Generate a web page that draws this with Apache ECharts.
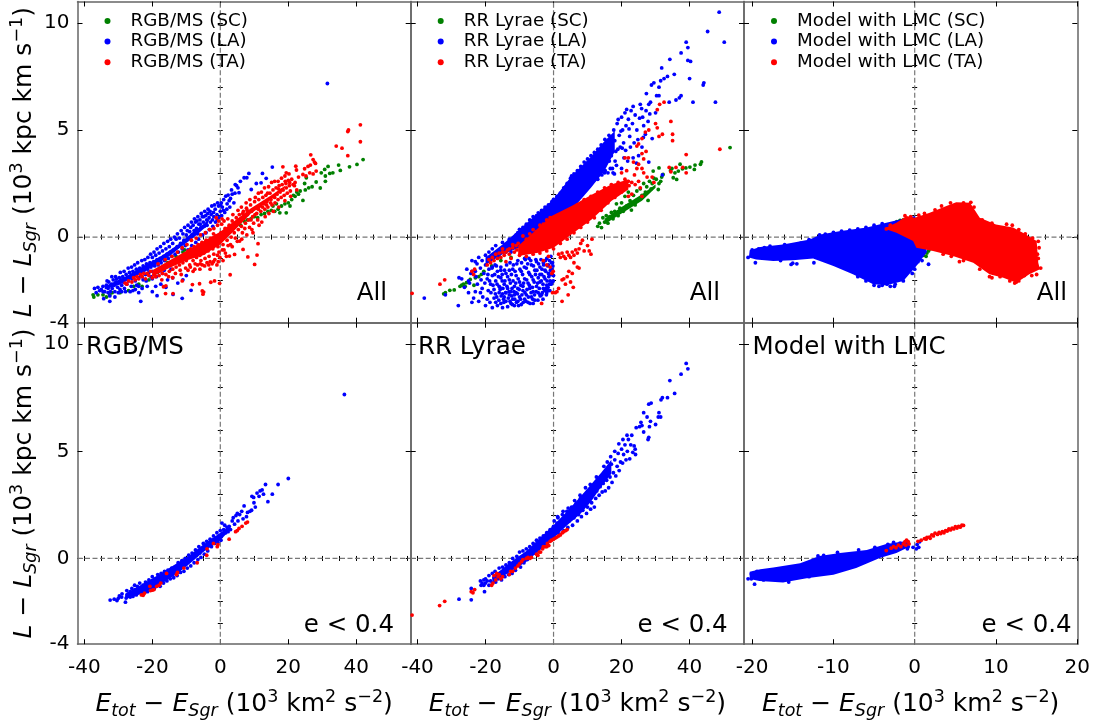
<!DOCTYPE html>
<html><head><meta charset="utf-8">
<script src="https://cdn.jsdelivr.net/npm/echarts@6/dist/echarts.min.js"></script>
<style>html,body{margin:0;padding:0;background:#fff}#c{width:1097px;height:724px}</style></head>
<body><div id="c"></div>
<script>
// flat lists: x,y,x,y,...  (10^3 km2 s-2 , 10^3 kpc km s-1)
const rgbAllSC=[-37.4,-2.7,-37.2,-2.8,-36,-2.7,-34.5,-2.7,-33.5,-2.8,-32.5,-2.7,-31.8,-2.6,-29.5,-2.6,-27,-2.5,-25.5,-2.3,-24,-2.2,-23,-2.3,-21,-2,-18.5,-1.65,-17,-1.5,-15.5,-1.2,-13,-.9,-11,-.7,-10.5,-.6,8,.8,9,.85,10,.95,12,1.05,13,1.1,14,1.2,15,1.25,16,1.2,17,1.3,17.5,1.13,19.4,1.13,18,1.45,19,1.55,20,1.6,21,1.75,22,1.9,23,2,24.3,1.71,21.5,1.95,22.5,2.1,23.5,2.15,25,2.2,24.8,2.5,25.3,2.77,26,2.3,27,2.35,28.2,2.57,29.4,2.29,29.7,3,30.9,2.85,30.9,2.6,30.7,3.16,31.7,3.3,32.2,2.97,33.1,3,34.8,3.36,35.3,3.11,38,3.28,40.2,3.39,42,3.62,6,.55,7,.75,11,.9,15.5,1.45,16.5,1.55,20.5,1.45];
const rgbAllLA=[-37,-2.4,-36.5,-2.6,-36,-2.35,-35.5,-2.5,-35,-2.45,-34.5,-2.3,-34.3,-2.88,-34,-2.55,-33.5,-2.25,-33,-2.4,-32.8,-2.1,-32.5,-3,-32.3,-2.55,-32,-2.2,-31.8,-2.4,-31.5,-2,-31.2,-2.25,-31,-2.55,-30.7,-2.1,-30.5,-1.95,-30.2,-2.35,-30,-2.15,-29.7,-1.9,-29.5,-2.45,-29.2,-2,-29,-2.25,-28.7,-1.85,-28.5,-2.1,-28.2,-2.4,-28,-1.95,-27.7,-1.75,-27.5,-2.2,-27.2,-1.9,-27,-2.05,-26.7,-1.65,-26.5,-1.85,-26.2,-2.3,-26,-1.95,-25.7,-2.5,-25.7,-1.6,-25.3,-1.8,-25,-2.05,-24.7,-1.5,-24.5,-1.7,-24,-2.6,-24,-1.9,-23.7,-1.45,-23.4,-3,-23.3,-1.65,-23,-1.85,-22.7,-1.35,-22.4,-1.55,-22,-1.75,-21.7,-1.25,-21.4,-1.5,-21,-1.65,-20.7,-1.2,-20.4,-1.4,-20,-.95,-20,-1.6,-19.6,-1.15,-19.3,-1.35,-19,-.85,-18.6,-2.74,-18.6,-1.05,-18.3,-1.3,-18,-.75,-17.7,-1,-17.4,-1.2,-17,-.65,-16.7,-.9,-16.4,-1.1,-16,-.55,-15.7,-.8,-15.3,-1,-15,-.45,-14.7,-.7,-14.3,-.9,-14,-.3,-13.9,-2.68,-13.7,-.6,-13.3,-.8,-13,-.1,-12.7,-.45,-12.3,-.7,-12,-.05,-11.7,-.3,-11.2,-2.86,-11.2,-.55,-11,.15,-10.7,-.15,-10.3,-.4,-10,.1,-9.7,.3,-9.4,-.05,-9,.25,-8.6,-2.49,-8.7,.45,-8.3,.1,-8,.55,-7.7,.3,-7.3,.7,-7,.4,-6.7,.15,-6.3,.6,-6,.8,-5.7,.45,-5.3,.95,-5,.7,-4.7,.5,-4.3,1,-4,.8,-3.7,1.1,-3.3,.9,-3,1.2,-2.7,1.05,-2.3,.8,-2,1.15,-1.5,1.3,-1,1.05,-.5,1.45,0,1.2,.3,1.6,.6,1.4,1,1.75,1.6,1.91,2,1.55,2.3,1.96,2.6,1.7,3,1.8,3.5,2,4.4,2.45,4.8,2.4,5.2,2.3,5.5,2.07,5.9,2.6,7,2.77,7.8,2.77,8.4,2.97,9.1,2.22,10.6,2.5,12,2.53,12.4,2.97,13.5,2.74,15.3,3.27,31.5,7.17,-34.5,-2.55,-32.5,-2.75,-31,-2.8,-29,-2.55,-26.5,-2.55,-25,-2.45,-23,-2.4,-21.5,-2.3,-20,-2.55,-19,-2.3,-17.5,-2.2,-16,-2.35,-15.5,-2,-14,-1.9,-12.5,-2.15,-11,-2,-10,-1.8,-14.5,-1.5,-17,-1.7,-20,-1.95,-24,-2.3];
const rgbAllLAExtra=[-33.3,-2.05,-31.9,-1.85,-30.8,-1.85,-29.4,-1.65,-28.3,-1.6,-27.1,-1.45,-26.1,-1.4,-25.2,-1.3,-24.3,-1.2,-23.1,-1.1,-22.2,-1.05,-21.3,-.95,-20.5,-.8,-19.5,-.7,-18.6,-.55,-17.6,-.45,-16.6,-.3,-15.5,-.2,-14.6,-.1,-13.5,0,-12.6,.15,-11.5,.3,-10.5,.45,-9.5,.55,-8.5,.7,-7.6,.85,-6.6,.95,-5.6,1.1,-4.6,1.2,-3.6,1.3,-2.5,1.45,-1.7,1.5,-.8,1.6,-33,-2.6,-30,-2.6,-27.9,-2.55,-24.6,-2.25,-22.7,-2,-21.8,-2.05,-20.4,-1.85,-18.8,-1.85,-18,-1.6,-16.5,-1.55,-15.2,-1.3,-13.5,-1.2,-12.2,-1,-10.8,-.85,-9.5,-.6,-8.4,-.4,-7.2,-.25,-6.4,-.1,-5.2,.1,-4.2,.2,-3.2,.35,-2.2,.5,-1.4,.7,-.4,.9,.4,1,1.3,1.15,2.8,1.4,4,1.6,-6.9,.75,-5.9,.6,-4.9,.95,-3.9,.55,-2.9,.7,-1.9,.95,-.9,.8,.1,1.5,.9,1.25,1.9,1.3,3.3,2.2,4.3,2.05];
const rgbAllLACore=[-34,-2.3,-28,-1.85,-22,-1.3,-17,-.85,-12,-.3,-8,.25,-5,.6,-3,.9,-4,.5,-8,-.05,-11,-.4,-15,-.9,-20,-1.4,-25,-1.85,-30,-2.25,-34,-2.45];
const rgbAllTA=[-28,-2.15,-27.5,-2.2,-27,-2.05,-26,-2.1,-25.5,-1.9,-25,-2,-24.5,-1.85,-24,-1.95,-23.5,-1.75,-23,-1.85,-22.5,-1.7,-22,-1.95,-21.5,-1.7,-21,-1.8,-20.5,-1.6,-20,-1.9,-19.5,-1.75,-19,-1.85,-18.5,-1.6,-18,-1.8,-17.5,-1.5,-17,-1.7,-16.5,-1.45,-16,-1.75,-15.5,-1.35,-15,-1.6,-14.5,-1.25,-14,-1.5,-13.5,-1.15,-13,-1.4,-12.5,-1.05,-12,-1.3,-11.5,-.95,-11,-1.2,-10.5,-.8,-10,-1.1,-9.5,-.65,-9.2,-.95,-9,-1.3,-8.7,-.55,-8.4,-.8,-8,-1.1,-7.7,-.45,-7.4,-.7,-7,-.95,-6.7,-1.3,-6.5,-.35,-6.2,-.6,-6,-.85,-5.7,-1.1,-5.4,-.25,-5.1,-.5,-4.8,-.75,-4.5,-1,-4.2,-.15,-3.9,-.4,-3.6,-.65,-3.3,-.9,-3,-1.15,-2.8,-.05,-2.5,-.3,-2.2,-.55,-1.9,-.8,-1.6,-1.05,-1.3,.05,-1,-.2,-.7,-.45,-.4,-.7,-.1,-.95,.2,.2,.5,-.1,.8,-.35,1.1,-.6,1.4,.4,1.7,.1,2,-.15,2.3,-.4,2.6,.55,2.9,.25,3.2,0,3.5,.75,3.8,.45,4.1,.2,4.4,-.05,4.7,.9,5,.6,5.3,.35,5.6,1.05,5.9,.75,6.2,.5,6.5,.2,6.8,1.2,7.1,.9,7.4,.65,7.7,1.35,8,1.05,8.3,.8,8.6,.45,8.9,1.5,9.2,1.2,9.5,.95,9.8,.65,10.1,1.65,10.4,1.35,10.7,1.1,11,.8,11.3,1.75,11.6,1.45,11.9,1.2,12.2,.7,12.5,1.85,12.8,1.55,13.1,1.3,13.4,1.95,13.7,1.65,14,1.4,14.3,1.1,14.6,2.05,14.9,1.75,15.2,1.5,15.5,2.2,15.8,1.9,16.1,1.6,16.4,2.3,16.7,2,17,1.75,17.3,2.4,17.6,2.1,17.9,1.85,18.2,2.45,18.5,2.2,18.8,1.95,19.1,2.6,19.4,2.3,19.7,2.05,20,2.65,20.3,2.4,20.6,2.15,21,2.7,21.4,2.45,22,2.55,41.2,5.24,37.7,5,37.5,4.93,41.2,4.45,34.1,4.25,35.8,4.15,37.5,3.8,26.6,3.84,27.3,3.62,27.7,3.5,28,3.44,26.5,3.36,25.8,3.3,28.2,3.08,24.8,3.19,22.2,3.31,18.4,3.28,19.4,3,22.4,3.13,24.3,2.92,26.3,3,27.3,2.95,23,2.8,25.2,2.85,11.1,-.31,10.8,-.84,10.1,-1.28,8.1,-.93,6.7,-.58,5.7,-.19,4.2,-.81,2.7,-.89,2.9,-1.76,-.2,-2.16,-1.7,-2.05,-2.8,-2.11,-5.1,-2.67,-5.3,-2.52,-4.9,-2.57,-6.1,-2.18,-8.2,-2.22,-11.2,-2.05,-13.9,-2.64,-16.1,-2.64,-16.7,-2.32,-16,-2.28,-1,-1.3,-3,-1.5,-6,-1.5,-8,-1.6,.8,-1.1,1.8,-.9,3.5,-.45,-9.5,-1.55,-11.5,-1.75,-14,-1.9,-1.2,.9,-.5,.75,.5,.85,-3,.35,-2,.15];
const rgbAllTAExtra=[10.3,1.85,11.2,2.05,12.1,2.1,13,2.3,13.9,2.05,14.2,2.35,15.1,2.55,16,2.6,17,2.6,18,2.75,19,2.85,20.2,2.95,8.7,1.75,7.6,1.6,6.2,1.4,5.2,1.25,3.7,1.05,2.2,.85,1.1,.75,.4,.6,9.3,.35,7.8,.1,6.3,-.1,7.2,.4,5,-.2,3,-.35,1.5,-.75,-.6,-1.15,-2.4,-1.25,-3.9,-1.2,-5.3,-1.3,-7.4,-1.25,13.2,.95,15.6,1.2,17.2,1.4,19,1.7,20.7,1.9,22.5,2.2,11.4,.55,9.6,.2,-18.3,-1.25,-16.2,-1.05,-14.2,-.9,-12.6,-.7,-11.2,-.5,-9.8,-.35,-8.5,-.15,-7.1,-.05,-5.8,.1,-4.4,.2,-3.2,.35,-1.9,.4,-.8,.55,-17.2,-2,-15.2,-1.85,-13.2,-1.7,-11.8,-1.55,-10.2,-1.45,-8.8,-1.4,-7.5,-1.5,-5.9,-1.25,-4.6,-1.35,-3.4,-1.3,-2,-1.15,-.8,-.85,.6,-.6,6.6,1.1,7.9,1.25,9,.8,10.2,1.05,11.2,1.3,12.4,1.4,13.6,1.5,14.8,1.6,16,1.85,17.1,2.25,18.2,2.2,19.3,2.5,20.4,2.55,21.8,2.4];
const rgbAllTACore=[-20,-1.55,-15,-1.1,-10,-.65,-5,-.2,0,.25,5,.85,9,1.35,15,1.95,19,2.4,19,2.3,15,1.75,9,1.1,5,.45,0,-.35,-5,-.85,-10,-1.1,-15,-1.45,-20,-1.85];
const rrAllSC=[51.9,4.18,43.5,3.51,43.2,3.4,41.6,3.36,41.4,3.16,40.1,3.27,38.9,3.23,37.9,3.19,37.2,3.4,36.7,3.08,35.7,3,36.2,2.69,35.2,2.77,34.8,3.2,34.4,3.1,32.2,2.92,31,3.23,29.3,3.08,31.5,2.6,31.8,2.8,30.8,2.22,31,2.5,30.2,2.7,29.5,2.75,29,2.5,28.7,2.25,28.2,2.6,27.8,1.71,27.4,2.35,27,2.1,26.5,2.5,26,1.95,25.5,2.25,25,1.75,24.5,2.15,24,1.5,23.5,1.95,22.9,1.26,22.5,1.7,22,2.1,21.5,1.45,21,1.9,20.5,1.2,20,1.6,19.5,1.35,19,1,18.5,1.55,18,1.2,17.5,.85,17,1.15,16.5,.95,16,.65,15.5,1,15,.7,14.1,.44,14.5,.9,13.5,.65,13,.5,-31.8,-2.6,-32.3,-2.65,-30.5,-2.49,-29.2,-2.47,-27.5,-2.3,-27,-2.25,-26.5,-2.2,-26,-2.3,-25.6,-2.13,-23.4,-2.25,-24.5,-1.98,-23,-1.9,-22,-1.85,-21.2,-1.74,-20.5,-1.6,-18.2,-1.35,-15.5,-1.1,-12.5,-.95,-8,-.5];
const rrAllSCCore=[15,.85,20,1.4,26,2,30,2.45,30,2.3,26,1.7,20,1.1,15,.6];
const rrAllLA=[-38,-2.85,-31.8,-2.7,-27.8,-1.9,-28,-3.2,-25,-2.6,-23.5,-2.85,-22,-3,-21.5,-2.6,-21,-2.4,-20,-3.2,-19.5,-2.9,-18,-3.3,-17.5,-2.85,-17,-3.05,-16.5,-3.2,-16,-2.6,-15.5,-3.1,-15,-3.3,-14.5,-2.8,-14,-3,-13.5,-3.25,-13,-2.7,-12.5,-3.1,-12,-2.9,-11.5,-3.2,-11,-2.6,-10.5,-3,-10,-2.8,-9.5,-3.15,-9,-2.5,-8.5,-2.9,-8,-2.7,-7.5,-3.05,-7,-2.4,-6.5,-2.8,-6,-2.55,-5.5,-2.95,-5,-2.3,-4.5,-2.6,-4,-2.1,-3.5,-2.7,-3,-2.4,-2.5,-1.95,-2,-2.25,-1.5,-1.7,-1,-2.05,-.5,-1.5,0,-1.8,-.3,-1.2,-.8,-.9,-1.5,-1.3,-2,-1,-2.5,-1.55,-3,-1.2,-3.5,-1.75,-4,-1.4,-4.5,-1.9,-5,-1.15,-5.5,-1.55,-6,-2,-6.5,-1.3,-7,-1.75,-7.5,-2.15,-8,-1.45,-8.5,-1.95,-9,-2.3,-9.5,-1.6,-10,-2.1,-10.5,-2.4,-11,-1.8,-11.5,-2.3,-12,-1.5,-12.5,-2.55,-13,-2,-13.5,-2.4,-14,-1.7,-14.5,-2.2,-15,-2.65,-15.5,-1.9,-16,-2.3,-16.5,-1.6,-17,-2.05,-17.5,-2.45,-18,-1.8,-18.5,-2.2,-19,-1.5,-19.5,-1.95,-20,-1.3,-20.5,-1.7,-21,-1.1,-21.5,-1.45,-22,-.95,-22.5,-1.25,-23,-1.6,-20,-.85,-19,-.7,-18,-.55,-17,-.4,-16,-.9,-15,-.25,-14,-.7,-13,-.1,-12,-.5,-11,.1,-10,.36,-10.5,.2,-9.5,-.2,-9,.45,-8.5,.1,-8,.6,-7.5,.25,-7,.8,-6.5,.45,-6,.95,-5.5,.6,-5,1,-4.5,1.13,-4,.8,-3.5,1.25,-3,.95,-2.5,1.4,-2,1.15,-1.5,1.5,-1,1.25,-.5,1.65,0,1.76,.5,1.4,1,1.9,1.5,1.55,2,2.05,2.5,1.75,3,2.3,3.5,2,4,2.5,4.5,2.2,5,2.75,5.3,2.85,5.5,2.35,6,2.95,6.5,2.55,7,3.1,7.5,2.7,8,3.3,8.5,2.95,9,3.5,9.5,3.1,10,3.65,10.5,3.25,11,3.8,11.2,3.4,11.7,2.85,12,3.95,12.3,3.5,12.7,3,13,4.1,13.3,3.65,13.7,3.2,14,4.3,14.3,3.85,14.7,3.4,15.1,4.56,15.4,4.05,15.8,3.6,16,3,16.3,4.75,16.6,4.25,17,3.8,17.3,3.2,17.7,5,18,4.5,18.3,4,18.7,5.3,19,5.49,19.3,4.75,19.6,4.2,20,5.6,20.3,5,20.6,4.4,21,5.8,21.3,5.2,21.5,5.96,22,5.5,22.4,4.7,22.8,5.9,23.2,5.3,23.4,6.1,23.7,4.4,24,5.7,24.5,5,25,3.8,25.5,6.2,25.9,6,26,4.2,26.5,5.2,27,4.8,27.3,6.7,28,6.2,27.8,5.4,28.5,6.3,28.8,7.1,29,4.6,29.5,7.2,30,5.8,30.3,6.6,31,7,31.5,7.3,31.8,7.9,31,6.6,32.5,7.4,33.5,7.5,34.2,8.3,34,6.3,35.5,7.6,37.5,8.6,36,6.4,37,6.5,37.5,6.6,39,9.1,39.5,8.85,40.3,8.2,39.5,8.25,40,7.4,44,7.1,44.2,7.2,41,6.3,47.6,6.3,45.3,9.6,48.7,10.5,50.2,9.1,32,2.9,28,3.5,20,3.2,17.5,3,-9.5,.2,-7,.1,-5,.3,-3,.5,-1,.8,1,1,3,1.6,5,1.9,7,2.3,9,2.6,11,2.8,13,2.7,15,3,3,1.2,-24,-1.1,-25.5,-1.5,-24,-1.6,-23,-1.15,-18,-1,-15,-.7,-12.5,-.7,-7.2,-1,-8.5,-1,-10.5,-1.1,-12.8,-1.2,-15.5,-1.4,-18,-1.4,-4,-2.7,-2,-2.6,-6,-3.1,-14,-2.6,-11.5,-2.7];
const rrAllLAExtra=[16.4,3.55,17.1,4.6,18.1,3.55,18.9,4.1,19.8,4.95,20.7,3.7,21.2,4.05,21.8,3.55,22.6,4.2,23.4,3.7,24.4,3.45,25.3,5.55,26.2,5.6,27.2,5.9,28.3,5.75,26.4,4.65,24.8,4.55,22.2,5.05,20.2,4.15,18.5,3.35,17.9,2.95,16.7,3.2,15.2,3.1,14.2,2.9,13.2,3.05,12.1,2.7,10.8,3,9.7,2.75,8.7,3.2,7.7,2.85,6.7,2.2,5.7,2,4.7,2.05,-26.2,-2.35,-27,-1.95,-24.7,-2.15,-24,-3.05,-23,-2.55,-22.4,-2.2,-20.8,-2.8,-20.2,-2.15,-19.2,-2.5,-18.7,-3.05,-16.7,-2.8,-15.7,-2.45,-14.7,-2.9,-12.2,-2.4,-15.1,-2.05,-17.2,-1.3,-19.3,-1.1,-21.3,-2,-22.8,-1.85,-24.3,-1.7,-25,-2.05,-3.1,-2.9,-2.2,-2.4,-1.2,-2.2,-.4,-2.1,-.8,-1.75,-1.7,-2.5];
const rrAllLABlob=[-19.3,-1.75,-18.8,-2.05,-18.4,-2.6,-18.1,-1.45,-17.8,-2.25,-17.3,-1.75,-17.1,-2.65,-16.8,-1.35,-16.6,-2.2,-16.2,-1.85,-16.1,-2.95,-15.8,-2.35,-15.5,-1.55,-15.4,-2.75,-15.1,-1.75,-14.9,-2.4,-14.6,-3.05,-14.4,-1.55,-14.3,-2.05,-14.1,-2.6,-13.8,-1.3,-13.7,-2.3,-13.5,-1.85,-13.3,-2.85,-13.1,-2.55,-13,-1.55,-12.8,-3,-12.7,-2.15,-12.4,-1.75,-12.3,-2.75,-12.1,-3.15,-11.9,-2.05,-11.8,-1.3,-11.6,-2.55,-11.4,-2.9,-11.3,-1.6,-11.1,-2.15,-10.9,-3.05,-10.8,-1.25,-10.6,-2.65,-10.4,-1.95,-10.3,-3.2,-10.1,-2.45,-9.9,-1.5,-9.7,-2.9,-9.6,-2.25,-9.4,-1.2,-9.3,-2.7,-9.1,-1.75,-8.9,-3.05,-8.8,-2.15,-8.6,-1.4,-8.4,-2.6,-8.3,-1.05,-8.1,-3,-7.9,-2,-7.8,-2.45,-7.6,-1.25,-7.4,-2.8,-7.3,-1.65,-7.1,-2.25,-6.9,-3.1,-6.7,-1.1,-6.6,-2.6,-6.4,-1.85,-6.2,-2.35,-6.1,-2.9,-5.9,-1.35,-5.7,-2.1,-5.6,-2.7,-5.3,-1.75,-5.2,-1.05,-5.1,-2.55,-4.9,-1.55,-4.7,-2.15,-4.6,-2.95,-4.4,-1.25,-4.2,-2.4,-4,-1.75,-3.9,-2.75,-3.7,-1.05,-3.6,-2.05,-3.4,-1.5,-3.3,-2.6,-3.1,-2.2,-2.9,-1.3,-2.8,-1.85,-2.6,-2.5,-2.4,-1.1,-2.3,-1.6,-2.1,-2.7,-1.9,-2.05,-1.7,-1.35,-1.6,-2.35,-1.4,-1.85,-1.2,-1.1,-1.1,-2.5,-.9,-1.55,-.7,-2.2,-.6,-1.2,-.4,-1.75,-.2,-1.35,-.1,-2.05];
const rrAllLACore=[-20,-.95,-15,-.35,-9.9,.36,-4.5,1.13,0,1.76,5.3,2.85,11.2,3.78,15.1,4.5,18,4.95,18,4,15,3.1,11,2.3,5,1.2,0,.6,-5,-.1,-10,-.5,-15,-.8,-20,-1.3];
const rrAllTA=[-41.6,-2.63,-33.4,-2.2,-32,-2,-24,-1.6,-23.5,-1.75,-23.2,-1.5,-19.5,-1.3,-19,-1.05,-18.5,-1.2,-18,-.95,-17.5,-1.1,-17,-.8,-16.5,-1,-16,-.75,-15.5,-.95,-15,-.7,-14.5,-.85,-14,-1.15,-13.5,-.6,-13,-.8,-12.5,-1,-12,-.5,-11.5,-.7,-11,-.4,-10.8,-.6,-3,-1.1,-2,-1.3,-1.5,-.9,-1,-1.4,-.5,-1.7,-.3,-2.6,-.1,-1.6,.5,-2.6,1,-2.55,1.5,-2.4,2.5,-3,4.3,-2.7,-3.5,-3.1,5.5,-1.7,5,-2.1,5.8,-2.35,3.5,-2.2,3,-1.95,2.5,-2,4.5,-1.6,4,-1.85,7,-1.4,7.5,-1.45,6,-1.2,1.5,-.8,2,-.95,2.5,-.75,3,-.9,3.5,-1,4,-.7,4.5,-.85,5,-.95,5.5,-.7,6,-.85,6.5,-.6,7,-.75,7.5,-.55,8,-.3,8.5,-.15,9,-.65,10.5,-.65,11,-.8,11.3,-.1,10,-.4,30.5,5.95,32.5,6.3,31.2,6.2,30.5,5.1,30,5.3,35,4.8,34.5,5.4,32,4.8,31,4.7,35,4.5,27,4.9,28,5,26,4.6,24.5,4.25,25,4.35,26,3.9,26.5,3.65,27.2,4,23.5,3.5,22,3.7,21,3.7,24.5,3.2,25,3.4,23.8,2.9,21.5,3.1,20,3,26,3.2,26.5,3,27.5,2.8,29,2.8,29.5,2.55,34,3.25,34.5,3.05,36,3.25,38,3.25,39,3,39,3.85,48.9,4.1,22.2,2.4,23,2.55,24,2.45,25,2.6,25.5,2.3,26,1.9,23,2,22,1.9,-10.4,-.3,-9,.05,-8,-.1,-7,.15,-6,.35,-5,.25,-4,.55,-3,.6,-2,.8,-1,.9,1,1,3,1.1,5,1.3,7,1.5,9,1.75,11,1.9,13,2.1,15,2.3,17,2.45,19,2.55,21,2.7,22,2.6,-10,-.85,-8,-.9,-6,-.8,-4,-.75,-2,-.65,0,-.55,2,-.3,4,-.1,6,.2,8,.45,10,.7,12,.9,14,1.25,16,1.6,18,1.85,20,2.1,-12,-.35,-13,-.55,-14,-.7,-15,-.55];
const rrAllCore=[-10.4,-.42,-4.5,.42,-.6,.98,5.3,1.45,11.2,1.98,17.1,2.46,22,2.69,22,2.22,17.1,1.7,11.2,.82,7.3,.36,3.3,-.11,0,-.5,-4.5,-.73,-10.4,-.89];
const lmcAllSC=[-2.2,.72,-1.8,.78,-1.4,.8,1.2,-.7,1.5,-.75,1.7,-.65,1.4,-.9,1.9,-.55,1.1,-.85];
const lmcAllLA=[-20.5,-.95,-20,-.6,-19.6,-1.2,-19.2,-.55,-18.5,-.5,-17.8,-.42,-17,-.95,-16.5,-1.1,-16,-.35,-15.2,-1.28,-15,-1.22,-14.5,-1.25,-14,-.28,-13,-.12,-12.4,-1.2,-11.7,.1,-11,.14,-10,.22,-9,.28,-8,.32,-7,.38,-6,.45,-5,.55,-4,.62,-3.4,-2.2,-3,-2.3,-2.5,-2.3,-2.4,-2.2,-1.4,-2.05,-.6,-1.55,-.3,-1.7,0,-1.5,.2,-1.2,.4,-1.15,.9,-1.1,1.7,-1.27,-5,-2.25,-4.4,-2.3,-4,-2.25,-6,-2.05,-7,-1.85];
const lmcAllLACore=[-20.3,-.62,-19,-.47,-16.2,-.35,-12.9,-.11,-11.6,.12,-9.1,.28,-5.9,.44,-3.5,.67,-1.8,.82,0,.98,1,.2,1.5,-.7,.2,-1.35,-1.4,-2.05,-3.5,-2.25,-5.1,-2.2,-7.6,-1.74,-10,-1.35,-12.5,-1,-15,-1.08,-17.4,-1.12,-19.5,-1.05,-20.4,-.95];
const lmcAllTA=[-3.5,.38,-3,.55,-1.2,1,-.5,.95,.5,1.02,1.2,1.1,2.5,1.27,3.3,1.45,4.4,1.6,6,1.6,6.9,1.62,7.3,1.4,8.3,.8,9.5,.65,11.3,.6,12,.55,12.8,.35,13.6,.15,14.5,-.05,15.2,-.2,15.3,-.5,15.1,-.8,15.2,-1,15.5,-1.45,15,-1.75,14.4,-1.8,14.8,-1.4,13.5,-1.8,12.8,-2.05,12.3,-2.15,12.5,-2.1,11.7,-2.05,10.5,-1.85,9.5,-1.9,9.2,-1.85,8,-1.5,6,-1.1,5.5,-1.15,4.5,-.9,3.5,-.8];
const lmcAllTACore=[-3.5,.44,-2.25,.67,-1,.98,0,.9,1.85,1.14,3.9,1.45,5.1,1.63,6.8,1.6,8,.9,10,.59,12.1,.44,13.3,.2,15,-.19,15.2,-1.2,15.4,-1.5,14.1,-1.74,12.5,-2.13,10.9,-1.9,9.2,-1.74,7.2,-1.2,4.7,-.89,2.25,-.65,.2,-.5,-.2,-.19,-2.25,.2,-3.5,.36];
const rgbLowLA=[-32.4,-1.94,-31.2,-1.9,-30.4,-1.96,-30,-1.86,-29.7,-1.75,-29,-1.8,-28.9,-1.65,-27.9,-2.04,-27.7,-1.85,-27.5,-1.5,-27,-1.65,-26.5,-1.55,-26.5,-1.8,-26,-1.4,-25.7,-1.77,-25.5,-1.6,-25.2,-1.25,-25,-1.45,-24.7,-1.7,-24.4,-1.3,-24,-1.55,-23.7,-1.15,-23.4,-1.4,-23,-1.65,-22.7,-1.25,-22.4,-1.5,-22,-1.1,-21.7,-1.35,-21.4,-1.55,-21,-1,-20.7,-1.25,-20.4,-1.45,-20,-.85,-19.7,-1.15,-19.4,-1.4,-19,-.95,-18.7,-1.2,-18.4,-.75,-18,-1.05,-17.7,-1.3,-17.4,-.7,-17,-.95,-16.7,-1.15,-16.4,-.6,-16,-.85,-15.7,-1.05,-15.4,-.55,-15,-.8,-14.7,-.95,-14.3,-.45,-14,-.7,-13.7,-.9,-13.3,-.4,-13,-.6,-12.7,-.8,-12.4,-.2,-12,-.5,-11.7,-.65,-11.3,-.1,-11,-.35,-10.7,-.6,-10.3,0,-10,-.25,-9.7,-.45,-9.3,.15,-9,-.1,-8.7,-.35,-8.3,.25,-8,.05,-7.7,-.2,-7.3,.4,-7,.15,-6.6,-.05,-6.3,.55,-6,.25,-5.7,.05,-5.3,.4,-5,.7,-4.7,.2,-4.3,.5,-4,.8,-3.7,.35,-3.3,.65,-3,.9,-2.6,.55,-2.3,.85,-2,1.05,-1.7,.7,-1.3,.95,-1,1.2,-.7,.75,-.3,1.05,0,1.3,.2,.85,.5,1.65,.7,1.15,1,1.35,1.3,1.55,1.6,1.2,2,1.45,2.3,1.25,2.6,1.5,3,1.35,3.5,1.75,3.8,1.9,4.2,1.6,4.6,2,5,2.1,5.2,1.75,5.7,2.05,6.3,2.2,6.7,1.85,7,2.45,7.7,1.95,8,2.15,8.7,2.2,9.2,2.25,9.3,2.9,9.8,2.85,9.9,2.6,10.3,2.4,10.8,3.05,11.4,2.9,11.7,3.15,12.3,3.2,12.7,3,13.3,3.45,14,2.65,15.3,3,17,3.45,20,3.73,36.5,7.65];
const rgbLowLACore=[-28,-1.65,-23,-1.2,-18,-.75,-13,-.25,-9,.15,-5,.65,0,1.2,3,1.55,3,1.35,0,.85,-5,.3,-9,-.25,-13,-.75,-18,-1.25,-23,-1.65,-28,-1.9];
const rgbLowTA=[-23.2,-1.7,-22.7,-1.72,-22.3,-1.62,-20.7,-1.3,-20.5,-1.5,-20,-1.48,-19.5,-1.45,-18.7,-1.3,-18,-1.25,-17.5,-1.15,-15.8,-.7,-12.9,-.75,-12.6,-.65,-10.7,-.45,-6.8,-.2,-4,.15,-3.9,.45,-2,.7,-.9,.55,-.7,.65,2.6,.9,4.5,1.25,5,1.3,5.5,1.4,6.4,1.5,7.5,1.65,8,1.7];
const rrLowLA=[-27.8,-1.9,-24.2,-1.93,-24.2,-1.4,-21.3,-1.25,-21.5,-1.05,-21,-1.15,-20.5,-1,-20.5,-1.25,-20,-.95,-20,-1.15,-20.3,-1.55,-19.5,-1.05,-19,-1.25,-19,-.8,-18.5,-1.05,-18,-.7,-18,-1.15,-17.5,-.9,-17.2,-.6,-17,-1.1,-16.7,-.75,-16.3,-.95,-16,-.45,-15.7,-.7,-15.3,-1,-15,-.4,-14.7,-.65,-14.3,-.85,-14,-.3,-13.7,-.55,-13.2,-.75,-13,-.2,-12.6,-.45,-12.2,-.7,-12,0,-11.6,-.3,-11.2,-.55,-10.8,.1,-10.4,-.15,-10,.3,-9.7,-.4,-9.4,.05,-9,.35,-8.7,-.2,-8.3,.15,-8,.45,-7.7,-.05,-7.3,.3,-7,.55,-6.6,.1,-6.3,.4,-6,.7,-5.6,.25,-5.3,.55,-5,.85,-4.6,.35,-4.3,.65,-4,.95,-3.6,.5,-3.3,.8,-3,1.05,-2.6,.65,-2.3,.95,-2,1.2,-1.6,.8,-1.3,1.05,-1,1.35,-.6,.9,-.3,1.2,0,1.5,.2,1.75,.4,1,.7,1.3,1,1.65,1.3,1.9,1.6,1.15,2,1.45,2.3,1.75,2.6,2.05,3,1.3,3.3,1.6,3.6,1.9,3.9,2.2,4.2,1.45,4.6,1.75,5,2.05,5.3,2.4,5.6,1.55,6,1.9,6.3,2.2,6.6,2.55,7,1.75,7.3,2.05,7.6,2.35,7.9,2.8,8.2,1.95,8.6,2.25,9,2.6,9.3,2.95,9.7,2.1,10,2.4,10.3,2.8,10.6,3.15,10.9,2.3,11.2,2.6,11.5,3,11.8,3.35,12,2.4,12.4,2.8,12.7,3.15,13,3.55,13.4,2.95,13.7,3.35,14,3.75,14.3,3.1,14.6,3.5,15,3.95,15.2,3.15,15.6,3.65,16,4.15,16.2,3.3,16.6,3.8,17,4.4,17.2,3.55,17.6,4,18,4.6,18.3,3.85,18.7,4.3,19,4.9,19.3,4.1,19.7,4.5,20,5.1,20.3,4.45,20.6,4.85,21,5.3,21.3,4.6,21.7,5,22,5.55,22.4,4.65,22.7,5.3,23,5.75,23.3,4.95,23.7,5.25,24,5.1,24.1,4.85,24.3,6.1,26,6.2,25.3,6.15,25.7,6.35,26.5,5.9,26.5,6.8,27.5,6.6,28.2,6.15,28,5.65,27.8,5.55,28.5,6.4,28,7.2,28.7,7.25,30,6.25,30.8,6.6,31,6.8,31.6,7.4,31.5,6.6,32,7.5,33.5,7.5,35.6,7.7,34.2,8.3,37.5,8.6,39,9.1,39.5,8.85,14.8,4.3,15.8,4.5,16.8,4.75,18,5,19.2,5.35,20.4,5.55,21.6,5.75,12.6,3.8,10.8,3.45,9.4,3.3,7.8,2.95,6.2,2.7,4.3,2.35,2.8,2.2,1.2,1.95];
const rrLowLACore=[-18,-.85,-12,-.1,-8,.35,-4,.95,0,1.55,4,2.2,8,2.9,11,3.45,14,4,17,4.6,17,3.95,14,3.35,11,2.65,8,2.1,4,1.55,0,.95,-4,.4,-8,-.15,-12,-.55,-18,-1.15];
const rrLowTA=[-41.6,-2.64,-33.5,-2.2,-32,-2,-24.2,-1.55,-23.7,-1.6,-23.2,-1.45,-18.2,-1.25,-17.8,-1.15,-17.5,-.8,-17,-1,-16.7,-.7,-16.3,-.85,-16,-.75,-15.5,-.95,-15,-.85,-13,-.75,-12.6,-.6,-12,-.6,-11.2,-.45,-10.5,-.35,-10,-.25,-9.4,-.15,-9,-.05,-8,0,-7.5,.05,-7,.0,-6.5,.05,-5,.2,-4.6,.15,-4.2,.3,-3.8,.3,-3.2,.45,-3,.55,-2.4,.55,-2,.55,-1.8,.7,-1.4,.6,-1,.8,-.6,.85,0,.9,.5,.95,1,1,1.5,1.05,2,1.1,2.6,1.2,3,1.25,3.6,1.3,4,1.35];
const lmcLowLA=[-20.5,-.95,-20.1,-.72,-20.1,-.95,-19.7,-1.2,-19.4,-.6,-19,-.85,-18.6,-1,-16.9,-.98,-15.5,-1.1,-13,-.85,-11.9,.12,-11.2,.14,-9.5,.28,-6.9,.4,-4.9,.52,-3.3,.66,-2.6,.75,-1.8,.72,-.8,.55,-.2,.52,.2,.45,.5,.52,.3,.65,.6,.78,-.9,.45];
const lmcLowLACore=[-20.3,-.62,-19,-.5,-17.4,-.42,-14.1,-.22,-11.7,.12,-9.2,.25,-5.9,.4,-3.5,.68,-1,.82,-.6,.56,-2.25,.25,-4.3,.02,-7.2,-.45,-10,-.76,-13.3,-.92,-16.2,-1.12,-19.1,-1.05,-20.3,-.96];
const lmcLowTA=[-3.5,.37,-2.9,.48,-2.6,.55,-2.3,.5,-2,.62,-1.7,.55,-1.4,.68,-1.2,.78,-1,.85,-.8,.78,-.7,.68,-1.1,.62,.4,.8,.8,.85,1.2,.93,1.5,.98,1.8,1,2.1,1.1,2.5,1.18,2.8,1.12,3.2,1.16,3.4,1.25,3.8,1.3,4.2,1.38,4.6,1.42,5,1.48,5.4,1.5,5.8,1.55,6,1.54,1.4,.9,1.9,.94,2.3,1.05,3,1.22,3.6,1.2,4,1.28,4.4,1.33,4.8,1.38,5.2,1.42,5.6,1.46];
const xTicksWide=[-40,-20,0,20,40], xMinorWide=[-40,-35,-30,-25,-20,-15,-10,-5,0,5,10,15,20,25,30,35,40,45,50,55];
const xTicksLmc=[-20,-10,0,10,20], xMinorLmc=[-20,-18,-16,-14,-12,-10,-8,-6,-4,-2,0,2,4,6,8,10,12,14,16,18,20];
const yTicks=[0,5,10], yLabels=[-4,0,5,10], yMinor=[-3,-2,-1,0,1,2,3,4,5,6,7,8,9,10];
const xRangeWide=[-42,56], xRangeLmc=[-21,20], yRange=[-4,11];
const colours={SC:'#008000',LA:'#0000ff',TA:'#ff0000'};

const pairs=a=>{const o=[];for(let i=0;i<a.length;i+=2)o.push([a[i],a[i+1]]);return o;};
const FONT='"DejaVu Sans"';
const panelGeom=[[77.5,1.5],[410.7,1.5],[744,1.5],[77.5,322.7],[410.7,322.7],[744,322.7]];
const W=[333.2,333.3,333.3], H=[321.2,321.5];
const panels=[
 {name:'RGB/MS',sc:rgbAllSC,la:rgbAllLA.concat(rgbAllLAExtra),ta:rgbAllTA.concat(rgbAllTAExtra),laCores:[rgbAllLACore],taCores:[rgbAllTACore],xr:xRangeWide,xt:xTicksWide,xm:xMinorWide,legend:true},
 {name:'RR Lyrae',sc:rrAllSC,scCores:[rrAllSCCore],la:rrAllLA.concat(rrAllLAExtra,rrAllLABlob),laCores:[rrAllLACore],ta:rrAllTA,taCores:[rrAllCore],xr:xRangeWide,xt:xTicksWide,xm:xMinorWide,legend:true},
 {name:'Model with LMC',sc:lmcAllSC,la:lmcAllLA,ta:lmcAllTA,laCores:[lmcAllLACore],taCores:[lmcAllTACore],xr:xRangeLmc,xt:xTicksLmc,xm:xMinorLmc,legend:true},
 {name:'RGB/MS',la:rgbLowLA,laCores:[rgbLowLACore],ta:rgbLowTA,xr:xRangeWide,xt:xTicksWide,xm:xMinorWide},
 {name:'RR Lyrae',la:rrLowLA,laCores:[rrLowLACore],ta:rrLowTA,xr:xRangeWide,xt:xTicksWide,xm:xMinorWide},
 {name:'Model with LMC',la:lmcLowLA,ta:lmcLowTA,laCores:[lmcLowLACore],xr:xRangeLmc,xt:xTicksLmc,xm:xMinorLmc}
];
const rich={
 n:{fontFamily:FONT,fontSize:25,color:'#000',lineHeight:32},
 i:{fontFamily:FONT,fontSize:25,fontStyle:'italic',color:'#000',lineHeight:32},
 s:{fontFamily:FONT,fontSize:17.5,fontStyle:'italic',color:'#000',verticalAlign:'bottom',lineHeight:30},
 u:{fontFamily:FONT,fontSize:17.5,color:'#000',verticalAlign:'top',lineHeight:32}
};
const xName='{i|E}{s|tot}{n| − }{i|E}{s|Sgr}{n| (10}{u|3}{n| km}{u|2}{n| s}{u|−2}{n|)}';
const yName='{i|L − L}{s|Sgr}{n| (10}{u|3}{n| kpc km s}{u|−1}{n|)}';
const grid=[],xAxis=[],yAxis=[],series=[],legend=[],graphic=[];
const hidden={show:false};
panels.forEach((p,k)=>{
 const [l,t]=panelGeom[k],w=W[k%3],h=H[k<3?0:1],bottom=k>=3,left=k%3===0;
 grid.push({left:l,top:t,width:w,height:h,containLabel:false});
 const line={show:true,onZero:false,lineStyle:{color:'#666',width:1.5}};
 const mkX=(pos,vals,len,isMain,showLabel)=>xAxis.push({gridIndex:k,type:'value',min:p.xr[0],max:p.xr[1],position:pos,splitLine:hidden,
   axisLine:isMain?line:{show:false},
   axisTick:{show:true,inside:true,length:len,customValues:vals,lineStyle:{color:'#000',width:1}},
   axisLabel:showLabel?{show:true,customValues:p.xt,fontFamily:FONT,fontSize:20,color:'#000',margin:14,showMinLabel:true,showMaxLabel:true,hideOverlap:false,formatter:v=>String(v)}:{show:false},
   name:showLabel?xName:'',nameLocation:'middle',nameGap:44,nameTextStyle:{rich}});
 mkX('bottom',p.xt,5,true,bottom); const x0=xAxis.length-1;
 mkX('top',p.xt,5,true,false);
 mkX('bottom',p.xm,2.5,false,false);
 mkX('top',p.xm,2.5,false,false);
 const mkY=(pos,vals,len,isMain,showLabel)=>yAxis.push({gridIndex:k,type:'value',min:yRange[0],max:yRange[1],position:pos,splitLine:hidden,
   axisLine:isMain?line:{show:false},
   axisTick:{show:true,inside:true,length:len,customValues:vals,lineStyle:{color:'#000',width:1}},
   axisLabel:showLabel?{show:true,customValues:yLabels,fontFamily:FONT,fontSize:20,color:'#000',margin:8,padding:[3,0,0,0],showMinLabel:true,showMaxLabel:true,hideOverlap:false,formatter:v=>String(v)}:{show:false},
   name:showLabel?yName:'',nameLocation:'middle',nameGap:36,nameTextStyle:{rich}});
 mkY('left',yTicks,5,true,left); const y0=yAxis.length-1;
 mkY('right',yTicks,5,true,false);
 mkY('left',yMinor,2.5,false,false);
 mkY('right',yMinor,2.5,false,false);
 const ax={xAxisIndex:x0,yAxisIndex:y0};
 const dash={type:'line',...ax,symbol:'none',silent:true,z:1,animation:false,lineStyle:{color:'#777',width:1.2,type:[5,2.5]}};
 series.push({...dash,name:'zero-v'+k,data:[[0,yRange[0]],[0,yRange[1]]]});
 series.push({...dash,name:'zero-h'+k,data:[[p.xr[0],0],[p.xr[1],0]]});
 const cloud=(key,arr,cores,z)=>{
  (cores||[]).forEach((core,n)=>series.push({type:'custom',...ax,name:'core-'+key+k+n,z:z,silent:true,animation:false,clip:true,data:pairs(core),
   renderItem:(params,api)=>{ if(params.dataIndex!==0)return null;
     return {type:'polygon',shape:{points:pairs(core).map(c=>api.coord(c))},style:{fill:colours[key]}}; }}));
  series.push({type:'scatter',...ax,name:p.name+' ('+key+')',z:z,symbol:'circle',symbolSize:3.8,silent:true,animation:false,large:false,itemStyle:{color:colours[key],opacity:1},data:pairs(arr)});
 };
 if(p.sc)cloud('SC',p.sc,p.scCores,2);
 cloud('LA',p.la,p.laCores,3);
 cloud('TA',p.ta,p.taCores,4);
 if(p.legend)legend.push({left:l+27,top:11,orient:'vertical',itemWidth:36,itemHeight:6,itemGap:.6,icon:'circle',selectedMode:false,padding:0,
   data:['SC','LA','TA'].map(c=>p.name+' ('+c+')'),textStyle:{fontFamily:FONT,fontSize:18.3,color:'#000',lineHeight:20}});
 const txt=(text,x,y,align)=>graphic.push({type:'text',x:x,y:y,z:50,silent:true,style:{text,fontFamily:FONT,fontSize:24.5,fill:'#000',align:align,verticalAlign:'middle'}});
 if(!bottom) txt('All',[387,720,1067][k],294,'right');
 else{ txt(p.name,[86,418,752.5][k-3],348,'left'); txt('e < 0.4',[394,727.7,1071.7][k-3],626,'right'); }
});
const chart=echarts.init(document.getElementById('c'),null,{renderer:'canvas'});
chart.setOption({animation:false,backgroundColor:'#fff',grid,xAxis,yAxis,series,legend,graphic:{elements:graphic},tooltip:{show:false}});
</script></body></html>
